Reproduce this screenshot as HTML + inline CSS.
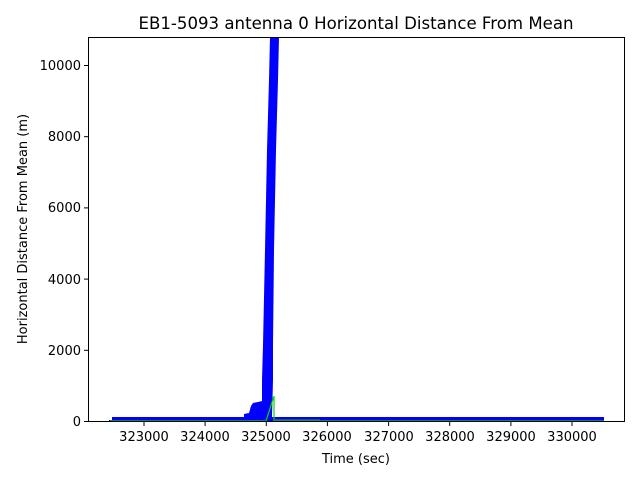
<!DOCTYPE html>
<html><head><style>body{margin:0;background:#fff}</style></head><body>
<svg width="640" height="480" xmlns="http://www.w3.org/2000/svg" font-family="DejaVu Sans, Liberation Sans, sans-serif">
<rect width="640" height="480" fill="#fff"/>
<text x="356" y="29" font-size="16.6" text-anchor="middle">EB1-5093 antenna 0 Horizontal Distance From Mean</text>
<polygon fill="#0000ff" points="109,421 109,420 112,420 112,417 244,417 244,414 249,413 251,406 253,403 258,402 262,401 262,380 263,345 265,250 267,150 269,80 270,37 279,37 278,80 276,150 274,250 273,345 273,380 272,417 604,417 604,421"/>
<polyline fill="none" stroke="#00dd00" stroke-width="1.2" points="110,421 266,421 274,396 274,421 604,421"/>
<line x1="274" y1="420" x2="320" y2="420" stroke="#207070" stroke-width="1.5"/>
<rect x="88.5" y="37.5" width="536" height="384" fill="none" stroke="#000" stroke-width="1"/>
<g stroke="#000">
<line x1="84" y1="421.5" x2="88" y2="421.5"/><line x1="84" y1="350.3" x2="88" y2="350.3"/><line x1="84" y1="279.1" x2="88" y2="279.1"/><line x1="84" y1="207.9" x2="88" y2="207.9"/><line x1="84" y1="136.7" x2="88" y2="136.7"/><line x1="84" y1="65.5" x2="88" y2="65.5"/>
<line x1="144" y1="422" x2="144" y2="426"/><line x1="205.1" y1="422" x2="205.1" y2="426"/><line x1="266.3" y1="422" x2="266.3" y2="426"/><line x1="327.4" y1="422" x2="327.4" y2="426"/><line x1="388.6" y1="422" x2="388.6" y2="426"/><line x1="449.7" y1="422" x2="449.7" y2="426"/><line x1="510.9" y1="422" x2="510.9" y2="426"/><line x1="572" y1="422" x2="572" y2="426"/>
</g>
<g font-size="13" text-anchor="end">
<text x="81" y="426">0</text><text x="81" y="355">2000</text><text x="81" y="284">4000</text><text x="81" y="212">6000</text><text x="81" y="141">8000</text><text x="81" y="70">10000</text>
</g>
<g font-size="13" text-anchor="middle">
<text x="144" y="441">323000</text><text x="205" y="441">324000</text><text x="266" y="441">325000</text><text x="327" y="441">326000</text><text x="389" y="441">327000</text><text x="450" y="441">328000</text><text x="511" y="441">329000</text><text x="572" y="441">330000</text>
</g>
<text x="356" y="463" font-size="13" text-anchor="middle">Time (sec)</text>
<text transform="translate(27,229) rotate(-90)" font-size="13" text-anchor="middle">Horizontal Distance From Mean (m)</text>
</svg>
</body></html>
